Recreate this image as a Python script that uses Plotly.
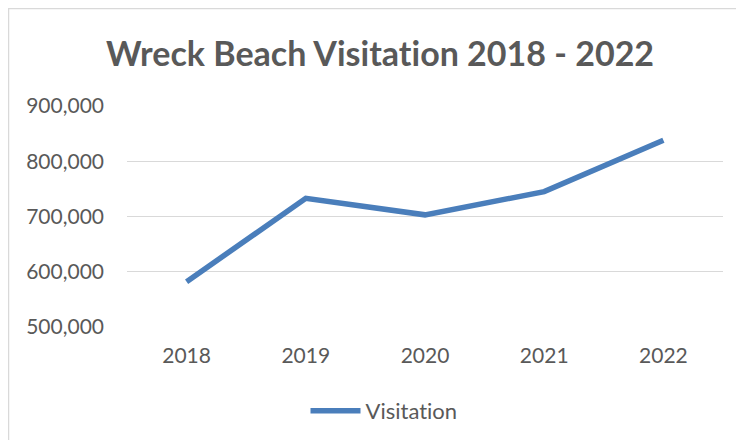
import plotly.graph_objects as go

years = ["2018", "2019", "2020", "2021", "2022"]
visitation = [582000, 733000, 703000, 745000, 838000]
y_ticks = [500000, 600000, 700000, 800000, 900000]
y_tick_labels = ["500,000", "600,000", "700,000", "800,000", "900,000"]
series_name = "Visit\u200cat\u200cion"  # ZWNJ avoids the Lato "ti" ligature
title_text = "Wreck Beach Visit\u200cat\u200cion 2018 - 2022"

# page body has an 8px margin, so the figure starts at (8, 8) in the window
OFF = 8
W, H = 744 - 2 * OFF, 448 - 2 * OFF
L = 127 - OFF
T = 106 - OFF
R = W - (723 - OFF)
B = H - (327 - OFF)
pw, ph = W - L - R, H - T - B

fig = go.Figure()
fig.add_trace(go.Scatter(
    x=years, y=visitation, mode="lines", name=series_name,
    line=dict(color="#4a7ebb", width=5.5),
))

def px_x(p):
    return (p - OFF - L) / pw

def px_y(p):
    return (H - B - (p - OFF)) / ph

fig.update_layout(
    width=W, height=H,
    margin=dict(l=L, r=R, t=T, b=B, autoexpand=False),
    paper_bgcolor="white", plot_bgcolor="white",
    font=dict(family="Lato", color="#595959", size=21),
    title=dict(text="<b>" + title_text + "</b>",
               x=(380 - OFF) / W, xanchor="center",
               y=1 - (54 - OFF) / H, yanchor="middle",
               font=dict(family="Lato", size=34, color="#595959")),
    xaxis=dict(type="category", range=[-0.5, 4.5], showgrid=False,
               showline=False, ticks="", tickangle=0,
               tickfont=dict(size=21, color="#595959"),
               ticklabelstandoff=14, automargin=False),
    yaxis=dict(range=[500000, 900000], tickvals=y_ticks, ticktext=y_tick_labels,
               showgrid=True, gridcolor="#d9d9d9", gridwidth=1.3,
               zeroline=False, showline=False, ticks="", automargin=False,
               tickfont=dict(size=21, color="#595959"), ticklabelstandoff=22),
    showlegend=True,
    legend=dict(orientation="h", x=px_x(384), xanchor="center",
                y=px_y(411), yanchor="middle",
                font=dict(size=22, color="#595959"), itemwidth=50),
    shapes=[dict(type="rect", xref="paper", yref="paper",
                 x0=px_x(8.5), x1=px_x(780), y0=px_y(490), y1=px_y(8.5),
                 line=dict(color="#d9d9d9", width=1.5), fillcolor="rgba(0,0,0,0)",
                 layer="below")],
)

fig.write_html("out.html")
